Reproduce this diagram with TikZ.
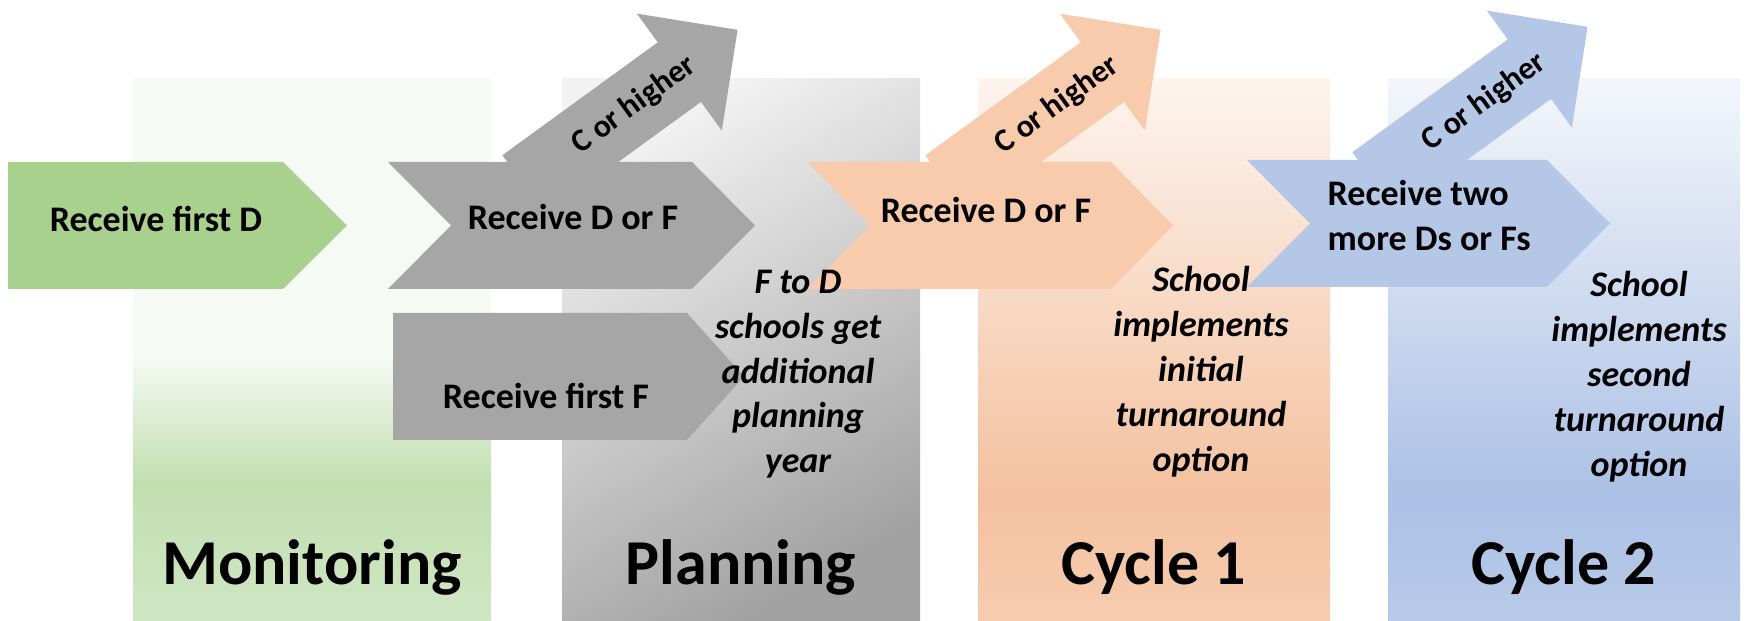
\documentclass[tikz,border=0pt]{standalone}
\usepackage{fontspec}
\setmainfont{Carlito}
\usetikzlibrary{calc}
\definecolor{greenarr}{HTML}{A9D18E}
\definecolor{grayarr}{HTML}{A6A6A6}
\definecolor{orangearr}{HTML}{F8CBAD}
\definecolor{bluearr}{HTML}{B4C7E7}
\definecolor{montop}{HTML}{F7FAF4}
\definecolor{monmid}{HTML}{C1DFB0}
\definecolor{monbot}{HTML}{D0E6C4}
\definecolor{plantop}{HTML}{F2F2F2}
\definecolor{planbot}{HTML}{A2A2A2}
\definecolor{cyatop}{HTML}{FDF4EE}
\definecolor{cyamid}{HTML}{F4C19F}
\definecolor{cyabot}{HTML}{F7CCAF}
\definecolor{cybtop}{HTML}{F4F6FB}
\definecolor{cybmid}{HTML}{ABC1E5}
\definecolor{cybbot}{HTML}{B8CAE9}
\pgfdeclareverticalshading{monshade}{100bp}{color(0bp)=(monbot); color(25bp)=(monbot); color(37.7bp)=(monmid); color(49.5bp)=(montop); color(100bp)=(montop)}
\pgfdeclareverticalshading{cyashade}{100bp}{color(0bp)=(cyabot); color(25bp)=(cyabot); color(36.6bp)=(cyamid); color(75bp)=(cyatop); color(100bp)=(cyatop)}
\pgfdeclareverticalshading{cybshade}{100bp}{color(0bp)=(cybbot); color(25bp)=(cybbot); color(36.6bp)=(cybmid); color(75bp)=(cybtop); color(100bp)=(cybtop)}
\tikzset{
  colbox/.style={shading=#1},
  chev/.style={fill=#1, draw=none},
  lab/.style={font=\fontsize{10.24}{12.8}\selectfont\bfseries, text=black, inner sep=0pt},
  labl/.style={lab, align=left},
  note/.style={font=\fontsize{10.24}{12.8}\selectfont\bfseries\itshape, text=black, align=center, inner sep=0pt, anchor=north},
  uplab/.style={font=\fontsize{9.1}{11}\selectfont\bfseries, text=black, inner sep=0pt},
  title/.style={font=\fontsize{18.2}{22}\selectfont\bfseries, text=black, anchor=base, inner sep=0pt},
}

\begin{document}
\begin{tikzpicture}
  \useasboundingbox (0,0) rectangle (17.46,6.21);
  % phase columns
  \shade[colbox=monshade] (1.33,0) rectangle (4.91,5.42);
  \shade[top color=plantop, bottom color=planbot, shading angle=30] (5.62,0) rectangle (9.20,5.42);
  \shade[colbox=cyashade] (9.78,0) rectangle (13.30,5.42);
  \shade[colbox=cybshade] (13.88,0) rectangle (17.40,5.42);

  % C or higher arrows
  \begin{scope}[shift={(5.24,4.36)}, rotate=36]
    \fill[chev=grayarr] (0,-0.368) -- (1.92,-0.368) -- (1.92,-0.723) -- (2.64,0) -- (1.92,0.723) -- (1.92,0.368) -- (0,0.368) -- cycle;
    \node[uplab, rotate=36] (upa) at (1.36,0) {C or higher};
  \end{scope}
  \begin{scope}[shift={(9.47,4.36)}, rotate=36]
    \fill[chev=orangearr] (0,-0.368) -- (1.92,-0.368) -- (1.92,-0.723) -- (2.64,0) -- (1.92,0.723) -- (1.92,0.368) -- (0,0.368) -- cycle;
    \node[uplab, rotate=36] (upb) at (1.36,0) {C or higher};
  \end{scope}
  \begin{scope}[shift={(13.74,4.39)}, rotate=36]
    \fill[chev=bluearr] (0,-0.368) -- (1.92,-0.368) -- (1.92,-0.723) -- (2.64,0) -- (1.92,0.723) -- (1.92,0.368) -- (0,0.368) -- cycle;
    \node[uplab, rotate=36] (upc) at (1.36,0) {C or higher};
  \end{scope}

  % chevrons
  \fill[chev=greenarr] (0.08,4.59) -- (2.83,4.59) -- (3.47,3.955) -- (2.83,3.32) -- (0.08,3.32) -- cycle;
  \fill[chev=grayarr] (3.88,4.59) -- (6.92,4.59) -- (7.55,3.955) -- (6.92,3.32) -- (3.88,3.32) -- (4.51,3.955) -- cycle;
  \fill[chev=grayarr] (3.93,3.08) -- (6.87,3.08) -- (7.44,2.445) -- (6.87,1.81) -- (3.93,1.81) -- cycle;
  \fill[chev=orangearr] (8.07,4.59) -- (11.11,4.59) -- (11.73,3.955) -- (11.11,3.32) -- (8.07,3.32) -- (8.70,3.955) -- cycle;
  \fill[chev=bluearr] (12.47,4.61) -- (15.47,4.61) -- (16.10,3.975) -- (15.47,3.34) -- (12.47,3.34) -- (13.10,3.975) -- cycle;

  % chevron texts
  \node[lab, anchor=base] (gd) at (1.56,3.89) {Receive first D};
  \node[lab, anchor=base] (pdf) at (5.73,3.91) {Receive D or F};
  \node[lab, anchor=base] (pf) at (5.46,2.12) {Receive first F};
  \node[lab, anchor=base] (odf) at (9.86,3.98) {Receive D or F};
  \node[labl, anchor=north west] (btwo) at (13.27,4.41) {Receive two\\more Ds or Fs};

  % notes
  \node[note] (pnote) at (7.98,3.52) {F to D\\schools get\\additional\\planning\\year};
  \node[note] (onote) at (12.01,3.55) {School\\implements\\initial\\turnaround\\option};
  \node[note] (bnote) at (16.39,3.50) {School\\implements\\second\\turnaround\\option};

  % phase titles
  \node[title] (tmon) at (3.12,0.36) {Monitoring};
  \node[title] (tplan) at (7.41,0.36) {Planning};
  \node[title] (tcya) at (11.54,0.36) {Cycle 1};
  \node[title] (tcyb) at (15.64,0.36) {Cycle 2};
\end{tikzpicture}
\end{document}
